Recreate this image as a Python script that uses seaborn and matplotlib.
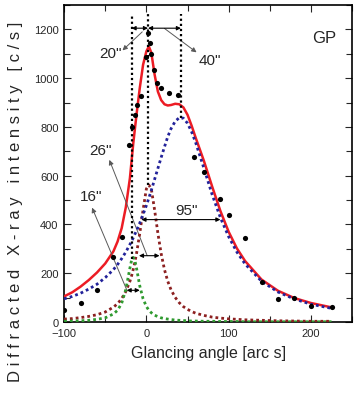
import numpy as np
import pandas as pd
import matplotlib
matplotlib.use("Agg")
import matplotlib.pyplot as plt
import seaborn as sns
from matplotlib import font_manager
from matplotlib.ticker import MultipleLocator

# curve values (arc s / c/s)
angle = [-100, -90, -80, -70, -60, -50, -40, -35, -30, -25, -20, -18, -16, -14, -12, -8, -4, 0, 3, 6,
         10, 14, 18, 22, 26, 30, 35, 40, 45, 50, 55, 60, 70, 80, 90, 100, 110, 120, 140, 160,
         180, 200, 225]
fit_total = [105, 122, 145, 172, 203, 240, 290, 330, 385, 470, 590, 660, 730, 790, 850, 960, 1055, 1110, 1130, 1105,
             1015, 945, 910, 893, 888, 890, 895, 893, 880, 850, 805, 755, 660, 555, 455, 370, 302, 250, 174, 128,
             98, 78, 60]
peak_broad = [95, 105, 118, 135, 155, 182, 215, 236, 260, 287, 318, 331, 345, 360, 374, 406, 441, 478, 508, 540,
              585, 630, 675, 718, 760, 793, 823, 838, 836, 815, 780, 735, 630, 522, 428, 350, 287, 238, 167, 123,
              94, 73, 56]
peak_mid = [12, 14, 18, 23, 30, 41, 61, 75, 96, 125, 167, 189, 215, 245, 280, 364, 460, 546, 562, 546,
            460, 364, 280, 215, 167, 132, 101, 79, 63, 52, 43, 36, 27, 20, 16, 13, 11, 9, 7, 5,
            4, 3, 3]
peak_narrow = [3, 4, 5, 7, 11, 17, 33, 48, 77, 133, 221, 253, 265, 253, 221, 148, 95, 64, 48, 38,
               28, 22, 17, 14, 12, 10, 8, 7, 6, 5, 4, 4, 3, 3, 2, 2, 2, 1, 1, 1,
               1, 1, 1]

# measured points
meas_angle = [-100, -80, -60, -40, -30, -21, -17, -14, -11, -6, 0, 2, 4, 6, 9, 13, 18, 28, 38,
              58, 70, 90, 100, 120, 140, 160, 180, 200, 225]
meas_counts = [50, 78, 130, 265, 350, 727, 800, 850, 890, 925, 1085, 1185, 1145, 1100, 1035, 980, 959, 939, 930,
               678, 615, 505, 437, 345, 163, 95, 100, 67, 62]

# peak positions and heights (vertical markers)
peak_pos = [-18, 2, 42]
peak_top = [258, 560, 838]
marker_top = 1262
sep_y = 1205

# FWHM arrows
fwhm_left = [-24, -9, -6]
fwhm_right = [-8, 16, 90]
fwhm_y = [130, 272, 420]

sns.set_style("ticks")
names = {f.name for f in font_manager.fontManager.ttflist}
narrow = 'Liberation Sans Narrow' if 'Liberation Sans Narrow' in names else 'Liberation Sans'
plt.rcParams['font.family'] = [narrow, 'DejaVu Sans']

curves = pd.DataFrame({'angle': angle, 'total': fit_total, 'broad': peak_broad,
                       'mid': peak_mid, 'narrow': peak_narrow})
meas = pd.DataFrame({'angle': meas_angle, 'counts': meas_counts})

fig = plt.figure(figsize=(3.6, 4.02), dpi=100)
ax = fig.add_axes([0.178, 0.1965, 0.8, 0.7885])

dot = (0, (1, 1.1))
sns.lineplot(data=curves, x='angle', y='total', color='#ec1c24', lw=1.8, ax=ax, zorder=3)
sns.lineplot(data=curves, x='angle', y='mid', color='#8c2020', lw=2.0, ls=dot, ax=ax, zorder=4)
sns.lineplot(data=curves, x='angle', y='narrow', color='#2f9a2f', lw=2.0, ls=dot, ax=ax, zorder=4)
sns.lineplot(data=curves, x='angle', y='broad', color='#22229a', lw=2.0, ls=dot, ax=ax, zorder=5)
sns.scatterplot(data=meas, x='angle', y='counts', color='black', s=14, edgecolor='black',
                linewidth=0, ax=ax, zorder=6)

# vertical dotted markers at the peak positions
for p, t in zip(peak_pos, peak_top):
    ax.plot([p, p], [t, marker_top], color='black', lw=1.6, ls=(0, (1, 1.3)), zorder=7)

# separation arrows on top
arr = dict(arrowstyle='<|-|>', color='black', lw=0.8, mutation_scale=6, shrinkA=0, shrinkB=0)
ax.annotate('', xy=(peak_pos[0], sep_y), xytext=(peak_pos[1], sep_y), arrowprops=arr, zorder=8)
ax.annotate('', xy=(peak_pos[1], sep_y), xytext=(peak_pos[2], sep_y), arrowprops=arr, zorder=8)

for l, r, y in zip(fwhm_left, fwhm_right, fwhm_y):
    ax.annotate('', xy=(l, y), xytext=(r, y), arrowprops=arr, zorder=8)

lead = dict(arrowstyle='-|>', color='0.35', lw=0.7, mutation_scale=7, shrinkA=0, shrinkB=0)
fs = 11
ax.annotate('', xy=(-29, 1114), xytext=(-5, 1190), arrowprops=lead)
ax.text(-43, 1102, '20"', fontsize=fs, ha='center', va='center')
ax.annotate('', xy=(61, 1106), xytext=(22, 1204), arrowprops=lead)
ax.text(77, 1073, '40"', fontsize=fs, ha='center', va='center')
ax.annotate('', xy=(-45, 665), xytext=(1, 272), arrowprops=lead)
ax.text(-56, 706, '26"', fontsize=fs, ha='center', va='center')
ax.annotate('', xy=(-66, 469), xytext=(-24, 133), arrowprops=lead)
ax.text(-67, 518, '16"', fontsize=fs, ha='center', va='center')
ax.text(49, 461, '95"', fontsize=fs, ha='center', va='center')
ax.text(216, 1167, 'GP', fontsize=12, ha='center', va='center')

ax.set_xlim(-100, 250)
ax.set_ylim(0, 1300)
ax.xaxis.set_major_locator(MultipleLocator(100))
ax.xaxis.set_minor_locator(MultipleLocator(50))
ax.yaxis.set_major_locator(MultipleLocator(200))
ax.yaxis.set_minor_locator(MultipleLocator(100))
ax.tick_params(which='both', direction='in', top=True, right=True, labelsize=8, width=0.8)
ax.tick_params(which='major', length=5, pad=4)
ax.tick_params(which='minor', length=4)
for s in ax.spines.values():
    s.set_linewidth(1.2)
    s.set_color('black')

ax.set_xlabel('Glancing angle [arc s]', fontsize=11.5, labelpad=5)
ax.set_ylabel('')
fig.text(0.042, 0.497, 'D i f f r a c t e d   X - r a y   i n t e n s i t y   [ c / s ]',
         rotation=90, fontsize=12, ha='center', va='center')

fig.savefig('out.png', dpi=100)
